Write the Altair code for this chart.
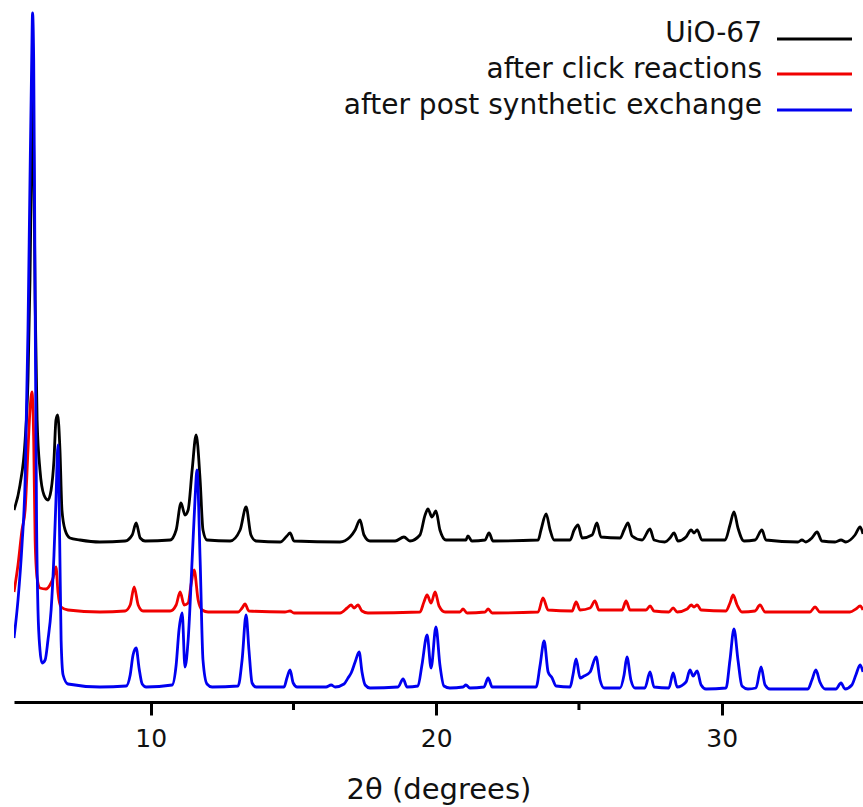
import altair as alt
import pandas as pd

# ---------------- data ----------------
series_names = ["UiO-67", "after click reactions", "after post synthetic exchange"]
series_colors = ["#000000", "#f00000", "#0000f0"]

uio_2theta = [5.21, 5.42, 5.60, 5.70, 5.77, 5.83, 5.86, 5.90, 5.95, 6.02,
              6.12, 6.26, 6.40, 6.51, 6.61, 6.68, 6.74, 6.82, 6.89, 7.00,
              7.17, 7.52, 8.22, 9.10, 9.35, 9.49, 9.63, 9.80, 10.68, 10.89,
              11.06, 11.20, 11.31, 11.45, 11.59, 11.73, 11.83, 11.97, 12.78, 13.13,
              13.34, 13.51, 13.69, 14.53, 14.77, 14.88, 15.02, 16.63, 16.98, 17.16,
              17.33, 17.47, 17.68, 18.56, 18.87, 19.08, 19.43, 19.61, 19.71, 19.85,
              19.99, 20.13, 20.34, 21.04, 21.11, 21.25, 21.71, 21.85, 21.99, 23.57,
              23.67, 23.85, 23.99, 24.13, 24.69, 24.83, 24.97, 25.11, 25.46, 25.63,
              25.77, 26.44, 26.58, 26.72, 26.86, 27.21, 27.49, 27.63, 28.01, 28.19,
              28.33, 28.47, 28.75, 28.93, 29.03, 29.14, 29.31, 30.12, 30.29, 30.43,
              30.57, 30.78, 31.17, 31.41, 31.55, 32.67, 32.81, 32.95, 33.16, 33.34,
              33.51, 33.97, 34.18, 34.35, 34.67, 34.85, 34.95]
uio_int = [192, 217, 262, 322, 422, 552, 612, 552, 402, 282,
           232, 207, 202, 212, 242, 282, 287, 252, 192, 172,
           164, 162, 160, 161, 167, 179, 164, 161, 162, 172,
           199, 187, 192, 232, 267, 222, 172, 162, 161, 172,
           195, 167, 161, 160, 166, 169, 161, 160, 165, 172,
           182, 167, 161, 161, 165, 161, 167, 187, 193, 185,
           191, 172, 162, 162, 166, 161, 162, 169, 161, 162,
           172, 188, 172, 162, 162, 172, 177, 164, 167, 179,
           165, 164, 172, 179, 166, 162, 173, 162, 160, 164,
           169, 161, 165, 172, 169, 172, 162, 162, 177, 190,
           174, 161, 162, 172, 162, 160, 162, 160, 164, 170,
           161, 160, 162, 160, 167, 175, 168]

click_2theta = [5.21, 5.35, 5.49, 5.60, 5.70, 5.77, 5.84, 5.90, 5.95, 6.02,
                6.12, 6.33, 6.47, 6.58, 6.68, 6.75, 6.86, 7.10, 8.22, 9.10,
                9.28, 9.42, 9.56, 9.73, 10.68, 10.89, 11.03, 11.17, 11.31, 11.41,
                11.52, 11.66, 11.80, 12.01, 13.06, 13.20, 13.30, 13.44, 14.70, 14.88,
                15.02, 16.63, 16.88, 17.02, 17.12, 17.26, 17.40, 17.61, 19.43, 19.57,
                19.68, 19.82, 19.96, 20.10, 20.31, 20.83, 20.94, 21.08, 21.71, 21.82,
                21.96, 23.57, 23.74, 23.92, 24.76, 24.90, 25.04, 25.39, 25.56, 25.70,
                26.51, 26.65, 26.79, 27.35, 27.49, 27.63, 28.15, 28.30, 28.44, 28.79,
                28.93, 29.03, 29.14, 29.28, 30.15, 30.29, 30.40, 30.54, 30.71, 31.17,
                31.34, 31.52, 33.09, 33.27, 33.44, 34.49, 34.70, 34.85, 34.95]
click_int = [110, 137, 172, 192, 252, 292, 310, 262, 162, 124,
             114, 113, 117, 124, 135, 110, 95, 92, 90, 91,
             97, 115, 97, 91, 91, 97, 110, 97, 99, 117,
             132, 102, 92, 90, 90, 94, 98, 91, 90, 91,
             89, 89, 94, 97, 94, 97, 91, 89, 90, 100,
             107, 99, 110, 96, 90, 90, 93, 89, 90, 93,
             89, 90, 104, 92, 91, 100, 92, 94, 101, 92,
             92, 101, 92, 92, 96, 91, 90, 94, 90, 93,
             97, 95, 97, 92, 91, 99, 107, 97, 90, 91,
             97, 90, 90, 95, 90, 90, 93, 96, 92]

pse_2theta = [5.21, 5.35, 5.49, 5.60, 5.70, 5.77, 5.83, 5.86, 5.90, 5.95,
              6.00, 6.05, 6.12, 6.19, 6.30, 6.40, 6.51, 6.61, 6.68, 6.75,
              6.81, 6.86, 6.93, 7.10, 8.22, 9.14, 9.28, 9.38, 9.49, 9.59,
              9.70, 9.84, 10.75, 10.89, 10.99, 11.10, 11.20, 11.31, 11.45, 11.55,
              11.62, 11.73, 11.83, 11.97, 12.15, 13.06, 13.20, 13.34, 13.44, 13.55,
              13.69, 14.67, 14.77, 14.88, 14.99, 15.13, 16.14, 16.32, 16.46, 16.77,
              16.91, 17.02, 17.16, 17.30, 17.40, 17.51, 17.68, 18.66, 18.84, 18.98,
              19.36, 19.50, 19.68, 19.82, 19.99, 20.13, 20.27, 20.48, 20.94, 21.04,
              21.18, 21.67, 21.82, 21.96, 23.50, 23.64, 23.78, 23.92, 24.06, 24.20,
              24.69, 24.79, 24.90, 25.04, 25.18, 25.39, 25.60, 25.74, 25.88, 26.44,
              26.58, 26.68, 26.82, 26.96, 27.31, 27.49, 27.63, 28.15, 28.30, 28.44,
              28.75, 28.89, 29.00, 29.14, 29.28, 29.45, 30.15, 30.29, 30.43, 30.57,
              30.71, 30.92, 31.20, 31.38, 31.52, 31.69, 33.02, 33.16, 33.30, 33.44,
              33.62, 34.00, 34.18, 34.32, 34.56, 34.70, 34.85, 34.95]
pse_int = [64, 102, 157, 222, 372, 522, 642, 689, 642, 402,
           182, 92, 52, 39, 42, 62, 92, 147, 202, 257,
           162, 62, 27, 18, 15, 16, 27, 47, 54, 34,
           18, 15, 17, 37, 72, 89, 35, 62, 142, 202,
           232, 142, 42, 18, 15, 16, 42, 87, 52, 19,
           15, 15, 24, 32, 19, 15, 15, 17, 15, 18,
           24, 29, 40, 50, 30, 17, 14, 15, 23, 15,
           16, 37, 67, 34, 75, 37, 16, 14, 15, 17,
           14, 15, 24, 15, 15, 37, 61, 30, 24, 16,
           15, 27, 43, 24, 26, 30, 45, 22, 14, 14,
           27, 45, 22, 14, 14, 30, 15, 14, 29, 15,
           20, 32, 26, 31, 17, 13, 14, 42, 73, 42,
           16, 13, 14, 35, 17, 13, 13, 22, 32, 20,
           13, 13, 19, 13, 17, 27, 37, 30]

x_ticks = [10, 20, 30]
x_minor_ticks = [15, 25]
x_title = "2θ (degrees)"

assert len(uio_2theta) == len(uio_int)
assert len(click_2theta) == len(click_int)
assert len(pse_2theta) == len(pse_int)

FONT = "DejaVu Sans"
W, H = 849, 702

x_scale = alt.Scale(domain=[5.21, 34.95], nice=False, zero=False)
y_scale = alt.Scale(domain=[0, 702], nice=False, zero=True)

x_axis = alt.Axis(
    values=x_ticks, format="d", grid=False,
    labelFont=FONT, labelFontSize=25, labelColor="#111111", labelPadding=11,
    tickSize=13, tickWidth=3, tickColor="#000000",
    domainColor="#000000", domainWidth=3,
    title=x_title, titleFont=FONT, titleFontSize=29, titleFontWeight="normal",
    titleColor="#111111", titlePadding=24,
)

series_data = [
    (uio_2theta, uio_int),
    (click_2theta, click_int),
    (pse_2theta, pse_int),
]

layers = []
for (xs, ys), name, col in zip(series_data, series_names, series_colors):
    df = pd.DataFrame({"two_theta": xs, "intensity": ys, "sample": name})
    layers.append(
        alt.Chart(df).mark_line(color=col, strokeWidth=2.8, clip=True, interpolate="monotone").encode(
            x=alt.X("two_theta:Q", scale=x_scale, axis=x_axis),
            y=alt.Y("intensity:Q", scale=y_scale, axis=None),
            order=alt.Order("two_theta:Q"),
        )
    )

# minor ticks at 15 and 25
minor_df = pd.DataFrame({"two_theta": x_minor_ticks})
layers.append(
    alt.Chart(minor_df).mark_rule(color="#000000", strokeWidth=3).encode(
        x=alt.X("two_theta:Q", scale=x_scale, axis=x_axis),
        y=alt.value(H),
        y2=alt.value(H + 8),
    )
)

# legend: text on the left, line sample on the right
legend_text_y = [42, 78, 114]
legend_line_y = [39, 74, 110]
for name, col, ty, ly in zip(series_names, series_colors, legend_text_y, legend_line_y):
    ldf = pd.DataFrame({"label": [name]})
    layers.append(
        alt.Chart(ldf).mark_text(align="right", baseline="alphabetic", font=FONT,
                                 fontSize=28, color="#111111").encode(
            x=alt.value(748), y=alt.value(ty), text="label:N")
    )
    layers.append(
        alt.Chart(ldf).mark_rule(color=col, strokeWidth=3).encode(
            x=alt.value(763), x2=alt.value(838), y=alt.value(ly))
    )

chart = alt.layer(*layers).properties(
    width=W, height=H,
    padding={"left": 14, "top": 0, "right": 0, "bottom": 105},
    autosize=alt.AutoSizeParams(type="none"),
    background="white",
).configure_view(stroke=None)

chart.save("out.html", embed_options={"renderer": "svg", "actions": False})
